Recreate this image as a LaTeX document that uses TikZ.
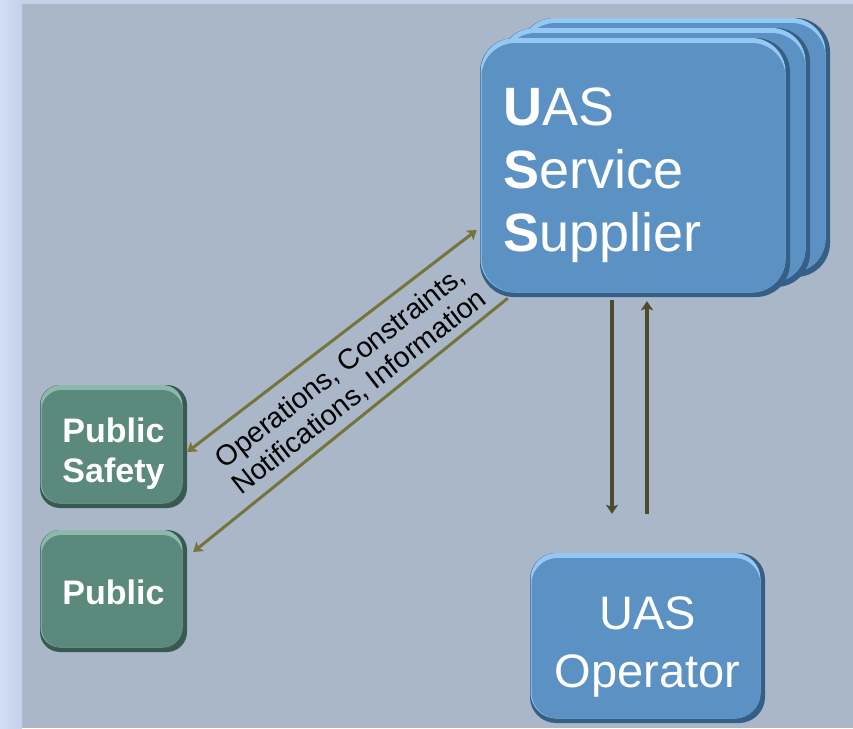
\documentclass[tikz,border=0pt]{standalone}
\usepackage{fontspec}
\setmainfont{Liberation Sans}
\usetikzlibrary{arrows.meta,calc}

\definecolor{bgmain}{HTML}{AAB7C9}
\definecolor{bgstripA}{HTML}{D4DEF3}
\definecolor{bgstripB}{HTML}{C4D1EB}
\definecolor{bluebox}{HTML}{5C91C4}
\definecolor{bluedark}{HTML}{365F86}
\definecolor{bluelight}{HTML}{96C8F4}
\definecolor{greenbox}{HTML}{5B8A7C}
\definecolor{greendark}{HTML}{385A50}
\definecolor{greenlight}{HTML}{8DB9AC}
\definecolor{flowdiag}{HTML}{75753A}
\definecolor{flowvert}{HTML}{4D4B2C}

\tikzset{
  % bevelled panel: #1 face, #2 upper rim, #3 lower/right rim, #4 corner radius
  panel/.style n args={4}{
    draw=none, fill=#3, rounded corners=#4, inner sep=0pt,
    path picture={
      \fill[#2, rounded corners=#4]
        ([shift={(0.5pt,4.5pt)}]path picture bounding box.south west)
        rectangle ([shift={(-4.5pt,0pt)}]path picture bounding box.north east);
      \fill[#1, rounded corners=#4]
        ([shift={(1.5pt,4.5pt)}]path picture bounding box.south west)
        rectangle ([shift={(-4.5pt,-5pt)}]path picture bounding box.north east);
    }},
  bluepanel/.style={panel={bluebox}{bluelight}{bluedark}{#1}},
  greenpanel/.style={panel={greenbox}{greenlight}{greendark}{#1}},
  boxtext/.style={text=white, inner sep=0pt, align=center},
  diagflow/.style={draw=flowdiag, line width=3pt},
  vertflow/.style={draw=flowvert, line width=3.6pt},
  tip/.tip={Stealth[length=9pt, width=12pt, inset=2pt]}
}

\begin{document}
\begin{tikzpicture}[x=1pt, y=-1pt]
  \useasboundingbox (0,0) rectangle (853,728);

  % backdrop
  \fill[bgmain] (0,0) rectangle (853,728);
  \shade[left color=bgstripA, right color=bgstripB] (0,0) rectangle (22,728);
  \fill[bgstripB] (22,0) rectangle (853,4);

  % stacked supplier panels
  \node[bluepanel=34pt, minimum width=310pt, minimum height=259pt] (uss3) at (675,147.5) {};
  \node[bluepanel=34pt, minimum width=310pt, minimum height=259pt] (uss2) at (655,157.5) {};
  \node[bluepanel=34pt, minimum width=310pt, minimum height=259pt] (uss) at (635,167.5) {};
  \node[boxtext, align=left, anchor=north west, font=\fontsize{54}{63}\selectfont]
    (usstext) at ([shift={(23pt,-50pt)}]uss.north west)
    {\textbf{U}AS\\\textbf{S}ervice\\\textbf{S}upplier};

  % public side
  \node[greenpanel=20pt, minimum width=147pt, minimum height=123pt] (ps) at (113.5,446.5) {};
  \node[boxtext, font=\bfseries\fontsize{34}{40}\selectfont]
    (pstext) at ([yshift=-7pt]ps.center) {Public\\Safety};
  \node[greenpanel=20pt, minimum width=147pt, minimum height=122pt] (pub) at (113.5,591) {};
  \node[boxtext, font=\bfseries\fontsize{34}{40}\selectfont]
    (pubtext) at ([yshift=-1.5pt]pub.center) {Public};

  % operator
  \node[bluepanel=26pt, minimum width=235pt, minimum height=170pt] (op) at (647.5,638) {};
  \node[boxtext, font=\fontsize{47}{58}\selectfont]
    (optext) at ([yshift=-9pt]op.center) {UAS\\Operator};

  % information flows to the public
  \draw[diagflow, tip-tip] ([yshift=-5.5pt]ps.east) -- ([shift={(-3pt,-62.5pt)}]uss.west);
  \draw[diagflow, -tip] ([shift={(28pt,-1pt)}]uss.south west) -- ([shift={(6pt,39pt)}]pub.east);
  \node[rotate=38, align=center, font=\fontsize{28.5}{31}\selectfont, inner sep=0pt]
    (flowtext) at (350,380) {Operations, Constraints,\\Notifications, Information};

  % exchange with the operator
  \coordinate (opin) at ([shift={(-35.5pt,39pt)}]op.north);
  \coordinate (opout) at ([shift={(-0.5pt,39pt)}]op.north);
  \draw[vertflow, -tip] ([shift={(-23pt,-3pt)}]uss.south) -- (opin);
  \draw[vertflow, -tip] (opout) -- ([shift={(12pt,-4pt)}]uss.south);
\end{tikzpicture}
\end{document}
